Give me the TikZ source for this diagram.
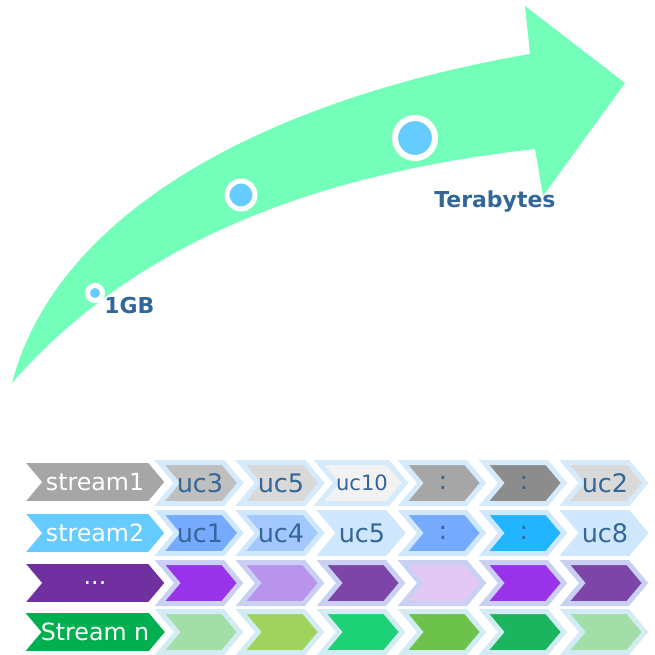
\documentclass[tikz,border=0pt]{standalone}
\usepackage{fontspec}
\setmainfont{DejaVu Sans}
\usetikzlibrary{shapes.symbols}

\definecolor{arrowgreen}{HTML}{73FFB9}
\definecolor{dotblue}{HTML}{66CCFF}
\definecolor{labelblue}{HTML}{336699}
% row 1
\definecolor{greyLead}{HTML}{A6A6A6}
\definecolor{greyA}{HTML}{BFBFBF}
\definecolor{greyB}{HTML}{D9D9D9}
\definecolor{greyC}{HTML}{F2F2F2}
\definecolor{greyD}{HTML}{A6A6A6}
\definecolor{greyE}{HTML}{8C8C8C}
% row 2
\definecolor{blueLead}{HTML}{66CCFF}
\definecolor{blueA}{HTML}{75AAFF}
\definecolor{blueB}{HTML}{A3C8FF}
\definecolor{blueC}{HTML}{CFE7FD}
\definecolor{blueD}{HTML}{22B5FF}
% row 3
\definecolor{purpleLead}{HTML}{7030A0}
\definecolor{purpleA}{HTML}{9933EA}
\definecolor{purpleB}{HTML}{B894EC}
\definecolor{purpleC}{HTML}{7E45A8}
\definecolor{purpleD}{HTML}{E3C8F4}
% row 4
\definecolor{greenLead}{HTML}{00B050}
\definecolor{greenA}{HTML}{A2DEA8}
\definecolor{greenB}{HTML}{A0D25E}
\definecolor{greenC}{HTML}{1DD177}
\definecolor{greenD}{HTML}{6CC24A}
\definecolor{greenE}{HTML}{1BB55E}
% rims
\definecolor{rimA}{HTML}{D5EAFB}
\definecolor{rimB}{HTML}{D0E8FD}
\definecolor{rimC}{HTML}{CAD0F3}
\definecolor{rimD}{HTML}{D3EBF3}

\tikzset{
  lead/.style={signal,signal to=east,signal from=west,signal pointer angle=100,minimum width=2.8cm,minimum height=0.78cm,
    inner sep=0pt,outer sep=0pt,draw=white,line width=0.5pt,text=white,font=\fontsize{13.5}{15}\selectfont},
  cell/.style={signal,signal to=east,signal from=west,signal pointer angle=100,minimum width=1.6cm,minimum height=0.82cm,
    inner sep=0pt,outer sep=0pt,line width=0.1cm,text=labelblue,font=\fontsize{14.5}{16}\selectfont},
  tag/.style={inner sep=0pt,text=labelblue,font=\bfseries\fontsize{12.5}{14}\selectfont},
  dot/.style={circle,fill=dotblue,draw=white,inner sep=0pt}
}

\begin{document}
\begin{tikzpicture}[x=0.02cm,y=-0.02cm]
	\useasboundingbox (0,0) rectangle (655,654);
	% growth arrow
	\fill[arrowgreen] (12,383) .. controls (60,200) and (290,95) .. (530,54) -- (525,6) -- (625,83)
		-- (543,196) -- (535,149) .. controls (350,170) and (150,225) .. (12,383) -- cycle;
	\node[dot,minimum size=0.3cm,line width=0.1cm] (dot1) at (95,293) {};
	\node[dot,minimum size=0.56cm,line width=0.1cm] (dot2) at (241,195) {};
	\node[dot,minimum size=0.8cm,line width=0.12cm] (dot3) at (415,138) {};
	\node[tag,anchor=base west] (gb) at (104,313) {1GB};
	\node[tag,anchor=base west] (tb) at (434,207) {Terabytes};
	% streams
	\foreach \col/\txt [count=\i from 0] in {greyA/uc3,greyB/uc5,greyC/{\fontsize{12}{14}\selectfont uc10},greyD/:,greyE/:,greyB/uc2}
		\node[cell,draw=rimA,fill=\col] (r1c\i) at (200+81*\i,483) {\txt};
	\node[lead,fill=greyLead] (r1) at (95,482) {stream1};
	\foreach \col/\txt [count=\i from 0] in {blueA/uc1,blueB/uc4,blueC/uc5,blueA/:,blueD/:,blueC/uc8}
		\node[cell,draw=rimB,fill=\col] (r2c\i) at (200+81*\i,533) {\txt};
	\node[lead,fill=blueLead] (r2) at (95,533) {stream2};
	\foreach \col [count=\i from 0] in {purpleA,purpleB,purpleC,purpleD,purpleA,purpleC}
		\node[cell,draw=rimC,fill=\col] (r3c\i) at (200+81*\i,583) {};
	\node[lead,fill=purpleLead] (r3) at (95,583) {...};
	\foreach \col [count=\i from 0] in {greenA,greenB,greenC,greenD,greenE,greenA}
		\node[cell,draw=rimD,fill=\col] (r4c\i) at (200+81*\i,632) {};
	\node[lead,fill=greenLead] (r4) at (95,632) {Stream n};
\end{tikzpicture}
\end{document}
